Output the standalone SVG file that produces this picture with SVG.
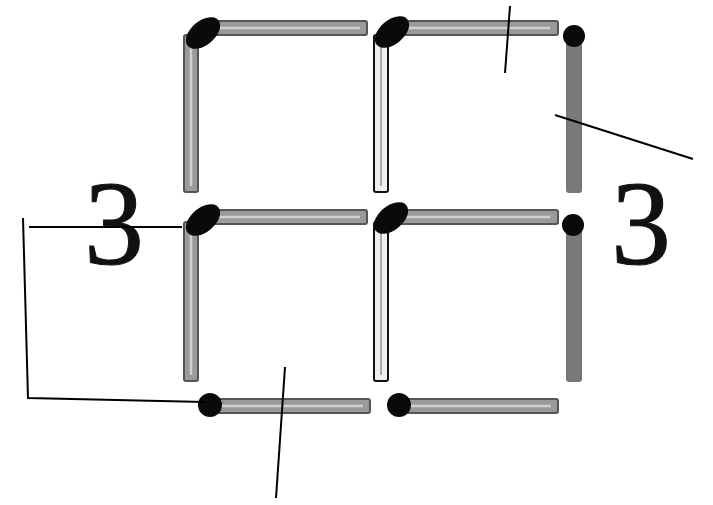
<svg xmlns="http://www.w3.org/2000/svg" width="713" height="505" viewBox="0 0 713 505">
<style>
.stick{fill:#9a9a9a;stroke:#555;stroke-width:2}
.hl{stroke:#d0d0d0;stroke-width:2.5;fill:none}
.head{fill:#0a0a0a}
.lbl{font-family:"Liberation Serif","DejaVu Serif",serif;font-size:120px;fill:#111;stroke:#111;stroke-width:1}
.lead{stroke:#000;stroke-width:2;fill:none}
</style>
<rect width="713" height="505" fill="#fff"/>
<g id="sticks">
  <g id="h-top-left"><rect class="stick" x="205" y="21" width="162" height="14" rx="2"/><line class="hl" x1="212" y1="28" x2="360" y2="28"/></g>
  <g id="h-top-right"><rect class="stick" x="395" y="21" width="163" height="14" rx="2"/><line class="hl" x1="402" y1="28" x2="550" y2="28"/></g>
  <g id="h-mid-left"><rect class="stick" x="205" y="210" width="162" height="14" rx="2"/><line class="hl" x1="212" y1="217" x2="360" y2="217"/></g>
  <g id="h-mid-right"><rect class="stick" x="395" y="210" width="163" height="14" rx="2"/><line class="hl" x1="402" y1="217" x2="550" y2="217"/></g>
  <g id="h-bot-left"><rect class="stick" x="210" y="399" width="160" height="14" rx="2"/><line class="hl" x1="217" y1="406" x2="363" y2="406"/></g>
  <g id="h-bot-right"><rect class="stick" x="400" y="399" width="158" height="14" rx="2"/><line class="hl" x1="407" y1="406" x2="551" y2="406"/></g>
  <g id="v-top-left"><rect class="stick" x="184" y="35" width="14" height="157" rx="2"/><line class="hl" x1="191" y1="45" x2="191" y2="186"/></g>
  <g id="v-top-mid"><rect class="stick" x="374" y="35" width="14" height="157" rx="2" style="fill:#eee;stroke:#111"/><line x1="381" y1="45" x2="381" y2="186" stroke="#aaa" stroke-width="2"/></g>
  <g id="v-top-right"><rect class="stick" x="567" y="35" width="14" height="157" rx="2" style="fill:#7a7a7a;stroke:#777"/></g>
  <g id="v-bot-left"><rect class="stick" x="184" y="222" width="14" height="159" rx="2"/><line class="hl" x1="191" y1="232" x2="191" y2="375"/></g>
  <g id="v-bot-mid"><rect class="stick" x="374" y="222" width="14" height="159" rx="2" style="fill:#eee;stroke:#111"/><line x1="381" y1="232" x2="381" y2="375" stroke="#aaa" stroke-width="2"/></g>
  <g id="v-bot-right"><rect class="stick" x="567" y="225" width="14" height="156" rx="2" style="fill:#7a7a7a;stroke:#777"/></g>
</g>
<g id="heads">
  <ellipse class="head" cx="203" cy="33" rx="20" ry="12" transform="rotate(-40 203 33)"/>
  <ellipse class="head" cx="392" cy="32" rx="20" ry="12" transform="rotate(-40 392 32)"/>
  <circle class="head" cx="574" cy="36" r="11"/>
  <ellipse class="head" cx="203" cy="220" rx="20" ry="12" transform="rotate(-40 203 220)"/>
  <ellipse class="head" cx="391" cy="218" rx="20" ry="12" transform="rotate(-40 391 218)"/>
  <circle class="head" cx="573" cy="225" r="11"/>
  <circle class="head" cx="210" cy="405" r="12"/>
  <circle class="head" cx="399" cy="405" r="12"/>
</g>
<g id="labels">
  <text class="lbl" x="114" y="264" text-anchor="middle">3</text>
  <text class="lbl" x="641" y="264" text-anchor="middle">3</text>
</g>
<g id="connectors">
  <line class="lead" x1="505" y1="73" x2="510" y2="6"/>
  <line class="lead" x1="555" y1="115" x2="693" y2="159"/>
  <polyline class="lead" points="23,218 28,398 205,402"/>
  <line class="lead" x1="29" y1="227" x2="182" y2="227"/>
  <line class="lead" x1="285" y1="367" x2="276" y2="498"/>
</g>
</svg>
